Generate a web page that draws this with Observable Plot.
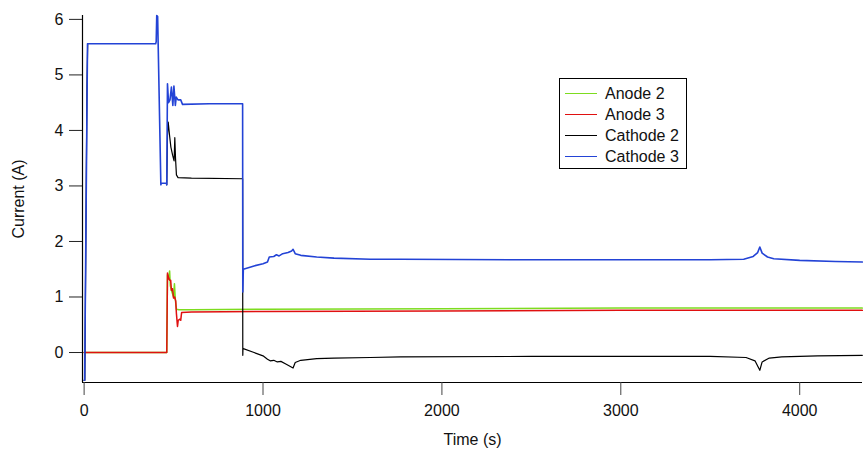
<!DOCTYPE html>
<html><head><meta charset="utf-8">
<script src="https://cdn.jsdelivr.net/npm/d3@7"></script>
<script src="https://cdn.jsdelivr.net/npm/@observablehq/plot@0.6"></script>
<style>
body{margin:0;background:#fff;font-family:"Liberation Sans",Arial,sans-serif;}
#wrap{position:relative;width:863px;height:450px;overflow:hidden;}
#legend{position:absolute;left:559px;top:78px;width:128px;height:91px;border:1.5px solid #000;background:#fff;font-size:16px;color:#111;box-sizing:border-box;padding-top:4px;}
.row{display:flex;align-items:center;height:21px;}
.sw{width:32px;height:1px;margin-left:5px;margin-right:8px;}
</style></head>
<body><div id="wrap"><div id="legend"></div></div>
<script>
const seriesNames = ["Anode 2", "Anode 3", "Cathode 2", "Cathode 3"];
const seriesColors = ["#7ddc1f", "#e01010", "#000000", "#2343d6"];
const xTicks = [0, 1000, 2000, 3000, 4000];
const yTicks = [0, 1, 2, 3, 4, 5, 6];

const anode2T = [0, 462, 466, 472, 478, 482, 490, 500, 505, 510, 516, 530, 600, 1000, 2000, 3000, 4350];
const anode2I = [0, 0, 1.40, 1.32, 1.47, 1.20, 1.10, 1.00, 1.24, 0.95, 0.78, 0.77, 0.77, 0.78, 0.79, 0.80, 0.80];

const anode3T = [0, 462, 466, 472, 478, 484, 488, 494, 500, 506, 512, 516, 522, 526, 535, 540, 545, 600, 1000, 2000, 3000, 4350];
const anode3I = [0, 0, 1.43, 1.35, 1.30, 1.30, 1.12, 1.15, 0.98, 1.00, 0.93, 0.70, 0.47, 0.58, 0.60, 0.58, 0.72, 0.73, 0.74, 0.75, 0.76, 0.76];

// Cathode 2 is hidden under Cathode 3 between ~20 s and ~462 s (null = not readable there)
const cathode2T = [0, 4, 16, 20, 21, 462, 466, 470, 478, 485, 495, 503, 507, 511, 516, 525, 600, 886, 887, 888, 890, 950, 1000, 1025, 1040, 1060, 1080, 1100, 1130, 1168, 1180, 1211, 1300, 1397, 1600, 1770, 2500, 3500, 3700, 3750, 3777, 3790, 3830, 3900, 4100, 4350];
const cathode2I = [-0.50, -0.50, 4.80, 5.56, null, 3.02, 3.90, 4.15, 3.90, 3.70, 3.55, 3.45, 3.87, 3.50, 3.20, 3.15, 3.14, 3.13, -0.05, 0.08, 0.07, 0.00, -0.06, -0.12, -0.15, -0.14, -0.17, -0.16, -0.21, -0.28, -0.18, -0.14, -0.11, -0.10, -0.09, -0.08, -0.07, -0.07, -0.09, -0.15, -0.32, -0.17, -0.10, -0.08, -0.06, -0.05];

const cathode3T = [0, 3, 19, 60, 200, 400, 403, 406, 411, 429, 432, 460, 462, 466, 472, 480, 488, 496, 502, 510, 515, 525, 540, 550, 700, 886, 887, 890, 950, 1000, 1025, 1035, 1060, 1075, 1090, 1110, 1140, 1160, 1168, 1180, 1211, 1300, 1397, 1600, 1770, 2500, 3500, 3687, 3740, 3765, 3777, 3790, 3820, 3855, 4000, 4200, 4350];
const cathode3I = [-0.50, -0.50, 5.56, 5.56, 5.56, 5.56, 5.60, 6.07, 6.05, 3.02, 3.05, 3.05, 3.02, 4.84, 4.50, 4.55, 4.78, 4.45, 4.80, 4.45, 4.60, 4.55, 4.55, 4.47, 4.48, 4.48, 1.09, 1.50, 1.56, 1.60, 1.63, 1.72, 1.73, 1.76, 1.74, 1.78, 1.80, 1.83, 1.86, 1.78, 1.75, 1.72, 1.70, 1.68, 1.68, 1.67, 1.67, 1.68, 1.73, 1.80, 1.90, 1.79, 1.72, 1.69, 1.66, 1.64, 1.63];

const seriesT = [anode2T, anode3T, cathode2T, cathode3T];
const seriesI = [anode2I, anode3I, cathode2I, cathode3I];
const seriesWidths = [1.5, 1.5, 1.2, 1.6];
const xDomain = [-9, 4351];
const yDomain = [-0.54, 6.07];

const lines = seriesNames.map((name, k) => Plot.line(
  seriesT[k].map((t, i) => ({t, v: seriesI[k][i]})),
  {x: "t", y: "v", stroke: seriesColors[k], strokeWidth: seriesWidths[k]}
));

const chart = Plot.plot({
  width: 863, height: 450,
  marginLeft: 82, marginRight: 1, marginTop: 15, marginBottom: 68,
  style: {fontFamily: '"Liberation Sans", Arial, sans-serif', fontSize: "16px", background: "#fff", color: "#111"},
  x: {domain: xDomain},
  y: {domain: yDomain},
  marks: [
    ...lines,
    Plot.ruleX([xDomain[0]], {stroke: "#000", strokeWidth: 1.2}),
    Plot.ruleY([yDomain[0]], {stroke: "#000", strokeWidth: 1.2}),
    Plot.axisX({ticks: xTicks, tickSize: 13, tickPadding: 9, tickFormat: d => String(d), stroke: "#444",
      label: "Time (s)", labelAnchor: "center", labelArrow: "none", labelOffset: 62, fontSize: 16}),
    Plot.axisY({ticks: yTicks, tickSize: 13, tickPadding: 6, tickFormat: d => String(d), stroke: "#222",
      label: "Current (A)", labelAnchor: "center", labelArrow: "none", labelOffset: 70, fontSize: 16})
  ]
});
document.getElementById("wrap").prepend(chart);

const legend = document.getElementById("legend");
seriesNames.forEach((name, k) => {
  const row = document.createElement("div");
  row.className = "row";
  const sw = document.createElement("div");
  sw.className = "sw";
  sw.style.background = seriesColors[k];
  const tx = document.createElement("span");
  tx.textContent = name;
  row.appendChild(sw); row.appendChild(tx);
  legend.appendChild(row);
});
</script>
</body></html>
